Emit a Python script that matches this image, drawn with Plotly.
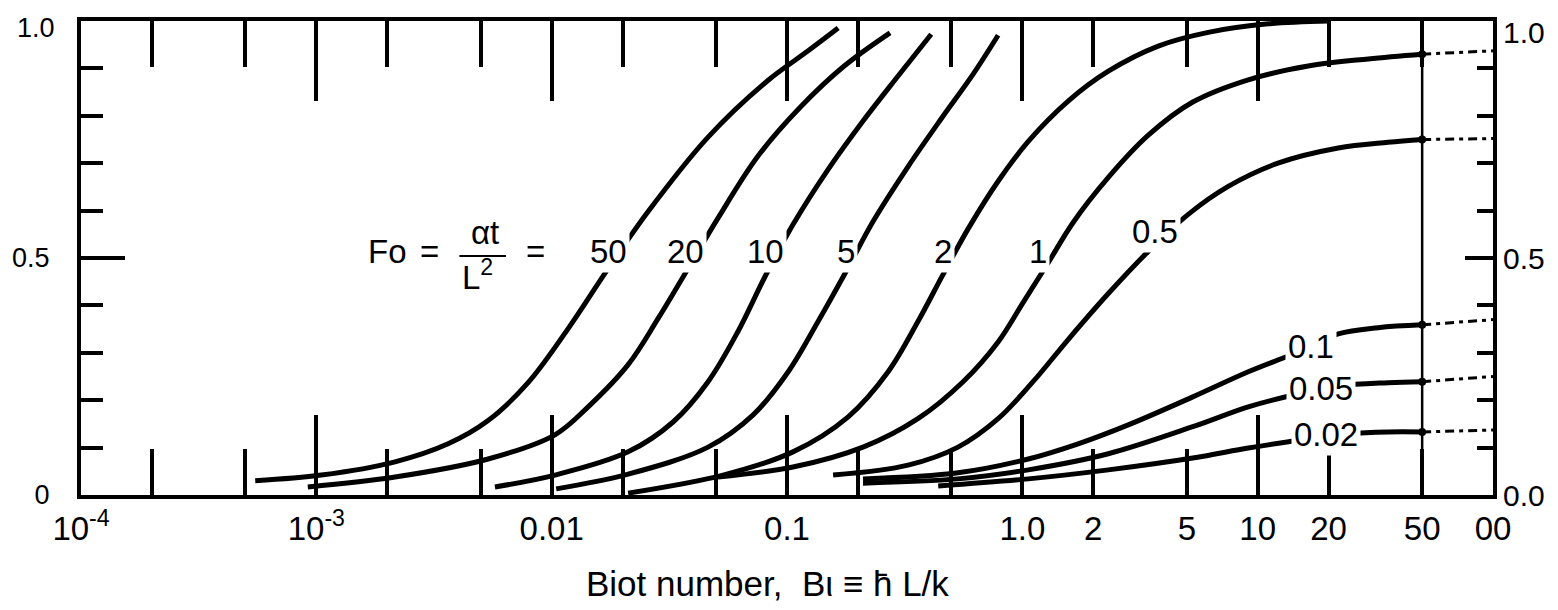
import numpy as np
import plotly.graph_objects as go

FONT = "Liberation Sans, Arial, Helvetica, sans-serif"

# ---- axis ticks ----
x_tick_vals = [1e-4, 1e-3, 0.01, 0.1, 1, 2, 5, 10, 20, 50, 100]
x_tick_text = ["10<sup>-4</sup>", "10<sup>-3</sup>", "0.01", "0.1", "1.0", "2", "5", "10", "20", "50", "00"]
x_minor_vals = [2e-4, 5e-4, 2e-3, 5e-3, 0.02, 0.05, 0.2, 0.5]
x_long_vals = [1e-3, 0.01, 0.1, 1, 10]
y_major_vals = [0, 0.5, 1.0]
y_left_text = ["0", "0.5", ""]
y_right_text = ["0.0", "0.5", ""]
y_top_left_text = "1.0"
y_top_right_text = "1.0"

# ---- curves: Biot number vs value, one per Fourier number ----
bi_fo50 = [5.5e-4, 1.05e-3, 2.16e-3, 3.63e-3, 5.37e-3, 7.94e-3, 0.01175, 0.0174, 0.0257, 0.0462, 0.0832, 0.123, 0.165]
val_fo50 = [0.030, 0.042, 0.070, 0.108, 0.157, 0.237, 0.351, 0.478, 0.598, 0.755, 0.875, 0.937, 0.985]

bi_fo20 = [9.2e-4, 2.16e-3, 5.37e-3, 0.01033, 0.01429, 0.02113, 0.0283, 0.038, 0.0509, 0.0753, 0.1138, 0.175, 0.274]
val_fo20 = [0.017, 0.038, 0.076, 0.127, 0.186, 0.275, 0.372, 0.478, 0.584, 0.715, 0.818, 0.905, 0.975]

bi_fo10 = [5.74e-3, 0.01033, 0.02113, 0.0328, 0.0462, 0.0619, 0.0807, 0.1062, 0.1496, 0.2104, 0.2965, 0.41]
val_fo10 = [0.017, 0.042, 0.091, 0.154, 0.239, 0.345, 0.461, 0.571, 0.687, 0.789, 0.884, 0.972]

bi_fo5 = [0.01045, 0.02113, 0.0462, 0.0718, 0.1012, 0.1355, 0.178, 0.232, 0.327, 0.46, 0.618, 0.789]
val_fo5 = [0.013, 0.044, 0.101, 0.169, 0.260, 0.366, 0.471, 0.577, 0.693, 0.799, 0.888, 0.97]

bi_fo2 = [0.02113, 0.0535, 0.106, 0.182, 0.269, 0.36, 0.46, 0.589, 0.789, 1.06, 1.566, 2.32, 3.78, 6.16, 11.1, 20]
val_fo2 = [0.004, 0.042, 0.091, 0.165, 0.260, 0.366, 0.465, 0.562, 0.662, 0.746, 0.831, 0.894, 0.947, 0.976, 0.994, 1.0]

bi_fo1 = [0.0509, 0.106, 0.2104, 0.36, 0.56, 0.789, 1.007, 1.288, 1.644, 2.32, 3.43, 5.3, 9.12, 16.4, 29.5, 50]
val_fo1 = [0.038, 0.059, 0.101, 0.161, 0.239, 0.323, 0.406, 0.490, 0.575, 0.670, 0.759, 0.829, 0.876, 0.905, 0.920, 0.930]

bi_fo05 = [0.157, 0.327, 0.533, 0.789, 1.11, 1.566, 2.32, 3.43, 5.07, 7.5, 12.2, 22, 35.8, 50]
val_fo05 = [0.042, 0.063, 0.101, 0.161, 0.239, 0.328, 0.425, 0.514, 0.592, 0.651, 0.700, 0.732, 0.744, 0.750]

bi_fo01 = [0.2104, 0.533, 1.06, 1.726, 2.82, 5.3, 9.12, 14.2, 22, 32.5, 50]
val_fo01 = [0.034, 0.047, 0.076, 0.108, 0.148, 0.207, 0.260, 0.298, 0.340, 0.353, 0.359]

bi_fo005 = [0.2104, 0.533, 1.06, 2.32, 5.3, 9.12, 14.2, 22, 35.8, 50]
val_fo005 = [0.025, 0.034, 0.053, 0.087, 0.144, 0.186, 0.211, 0.230, 0.237, 0.239]

bi_fo002 = [0.439, 1.06, 2.32, 5.3, 9.12, 14.2, 24.3, 35.8, 50]
val_fo002 = [0.019, 0.034, 0.053, 0.078, 0.099, 0.114, 0.129, 0.133, 0.133]

# dashed extrapolation from Bi = 50 to Bi -> infinity (right edge)
bi_ext = [50, 100]
ext_fo1 = [0.930, 0.937]
ext_fo05 = [0.750, 0.752]
ext_fo01 = [0.359, 0.370]
ext_fo005 = [0.239, 0.250]
ext_fo002 = [0.133, 0.137]

# Bi = 50 reference line
bi_line50 = [50, 50]
val_line50 = [0, 1]

fig = go.Figure()

solid = [
    (bi_fo50, val_fo50), (bi_fo20, val_fo20), (bi_fo10, val_fo10), (bi_fo5, val_fo5),
    (bi_fo2, val_fo2), (bi_fo1, val_fo1), (bi_fo05, val_fo05), (bi_fo01, val_fo01),
    (bi_fo005, val_fo005), (bi_fo002, val_fo002),
]
for bx, vy in solid:
    fig.add_trace(go.Scatter(x=bx, y=vy, mode="lines",
                             line=dict(color="black", width=5, shape="spline", smoothing=1.0),
                             showlegend=False, hoverinfo="skip"))

fig.add_trace(go.Scatter(x=bi_line50, y=val_line50, mode="lines", line=dict(color="black", width=2.5),
                         showlegend=False, hoverinfo="skip"))

for ev in [ext_fo1, ext_fo05, ext_fo01, ext_fo005, ext_fo002]:
    fig.add_trace(go.Scatter(x=bi_ext, y=ev, mode="lines", xaxis="x2", yaxis="y2",
                             line=dict(color="black", width=3, dash="9px,5px,4px,5px"),
                             showlegend=False, hoverinfo="skip"))
    fig.add_trace(go.Scatter(x=bi_ext[:1], y=ev[:1], mode="markers", xaxis="x2", yaxis="y2",
                             marker=dict(color="black", size=8), showlegend=False, hoverinfo="skip"))

xtickfont = dict(family=FONT, size=33, color="black")
ylfont = dict(family=FONT, size=27, color="black")
yrfont = dict(family=FONT, size=30, color="black")

fig.update_layout(
    width=1558, height=610,
    margin=dict(l=73, r=73, t=13, b=123),
    paper_bgcolor="white", plot_bgcolor="white",
    font=dict(family=FONT, color="black"),
    xaxis=dict(
        type="log", range=[-4, 2], showgrid=False, zeroline=False, automargin=False,
        showline=True, linecolor="black", linewidth=4, mirror="ticks",
        ticks="inside", ticklen=46, tickwidth=3.5, tickcolor="black",
        tickvals=x_tick_vals, ticktext=x_tick_text, tickfont=xtickfont,
        ticklabelstandoff=1, ticklabeloverflow="allow",
        minor=dict(tickvals=x_minor_vals, ticks="inside", ticklen=46, tickwidth=3.5, tickcolor="black"),
    ),
    xaxis2=dict(
        type="log", range=[-4, 2], overlaying="x", anchor="y2", side="bottom", automargin=False,
        showgrid=False, zeroline=False, showline=False, mirror="ticks",
        ticks="inside", ticklen=80, tickwidth=3.5, tickcolor="black",
        tickvals=x_long_vals, showticklabels=False,
    ),
    yaxis=dict(
        range=[0, 1], showgrid=False, zeroline=False, automargin=False,
        showline=True, linecolor="black", linewidth=4,
        ticks="inside", ticklen=44, tickwidth=3.5, tickcolor="black",
        tickvals=y_major_vals, ticktext=y_left_text, tickfont=ylfont,
        ticklabelstandoff=22, ticklabeloverflow="allow",
        minor=dict(dtick=0.1, ticks="inside", ticklen=22, tickwidth=3.5, tickcolor="black"),
    ),
    yaxis2=dict(
        range=[0, 1], overlaying="y", side="right", anchor="x2", automargin=False,
        showgrid=False, zeroline=False,
        showline=True, linecolor="black", linewidth=4,
        ticks="inside", ticklen=28, tickwidth=3.5, tickcolor="black",
        tickvals=y_major_vals, ticktext=y_right_text, tickfont=yrfont,
        ticklabelstandoff=0, ticklabeloverflow="allow",
        minor=dict(dtick=0.1, ticks="inside", ticklen=16, tickwidth=3.5, tickcolor="black"),
    ),
)

# top "1.0" labels sit slightly below the top edge, as in the original
fig.add_annotation(x=-0.017, y=0.985, xref="paper", yref="paper", xanchor="right", yanchor="middle",
                   text=y_top_left_text, showarrow=False, font=ylfont)
fig.add_annotation(x=1.006, y=0.975, xref="paper", yref="paper", xanchor="left", yanchor="middle",
                   text=y_top_right_text, showarrow=False, font=yrfont)

lab = dict(family=FONT, size=33, color="black")
curve_labels = [
    ("50", 0.0174, 0.514), ("20", 0.0369, 0.514), ("10", 0.0807, 0.514), ("5", 0.178, 0.514),
    ("2", 0.46, 0.514), ("1", 1.167, 0.514), ("0.5", 3.66, 0.556),
    ("0.1", 16.9, 0.313), ("0.05", 18.5, 0.224), ("0.02", 19.5, 0.127),
]
for txt, bx, vy in curve_labels:
    fig.add_annotation(x=np.log10(bx), y=vy, xref="x", yref="y", text=txt, showarrow=False,
                       font=lab, bgcolor="white", borderpad=2)

# "Fo = αt / L² =" block
fig.add_annotation(x=np.log10(2.0e-3), y=0.514, text="Fo", showarrow=False, font=lab)
fig.add_annotation(x=np.log10(3.04e-3), y=0.514, text="=", showarrow=False, font=lab)
fig.add_annotation(x=np.log10(5.21e-3), y=0.553, text="αt", showarrow=False, font=lab)
fig.add_annotation(x=np.log10(4.86e-3), y=0.465, text="L<sup>2</sup>", showarrow=False, font=lab)
fig.add_annotation(x=np.log10(8.5e-3), y=0.514, text="=", showarrow=False, font=lab)
fig.add_shape(type="line", xref="paper", yref="paper", x0=0.268, x1=0.301, y0=0.504, y1=0.504,
              line=dict(color="black", width=2))

fig.add_annotation(x=0.4865, y=-0.232, xref="paper", yref="paper", text="Biot number,  Bι ≡ h\u0304 L/k",
                   showarrow=False, font=dict(family=FONT, size=35, color="black"))

fig.write_html("out.html")
